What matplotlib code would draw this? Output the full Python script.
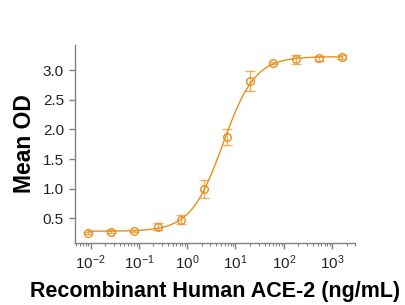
import numpy as np
import matplotlib
matplotlib.use("Agg")
import matplotlib.pyplot as plt
from matplotlib.ticker import LogLocator, NullFormatter

plt.rcParams['font.family'] = ['Liberation Sans', 'DejaVu Sans']

# ACE-2 concentration (ng/mL), 3-fold dilutions
conc = [0.009, 0.027, 0.081, 0.244, 0.73, 2.19, 6.58, 19.75, 59.3, 178, 533, 1600]
od = [0.26, 0.28, 0.29, 0.36, 0.48, 1.00, 1.87, 2.81, 3.12, 3.18, 3.20, 3.22]
err = [0.02, 0.02, 0.02, 0.06, 0.075, 0.15, 0.14, 0.17, 0.02, 0.075, 0.04, 0.04]

col = '#E8901F'

x = np.log10(conc)
y = np.array(od)


def logistic(p, xv):
    b, t, c, h = p
    return b + (t - b) / (1 + 10 ** (h * (c - xv)))


# 4-parameter logistic least-squares fit (damped Gauss-Newton)
p = np.array([y.min(), y.max(), 0.6, 1.2])
for i in range(200):
    r = y - logistic(p, x)
    J = np.zeros((len(x), 4))
    for k in range(4):
        dp = np.zeros(4)
        dp[k] = 1e-6
        J[:, k] = (logistic(p + dp, x) - logistic(p, x)) / 1e-6
    A = J.T @ J
    step = np.linalg.solve(A + 1e-3 * np.diag(np.diag(A)), J.T @ r)
    p = p + step
    if np.max(np.abs(step)) < 1e-9:
        break

xs = np.linspace(x.min(), x.max(), 300)
ys = logistic(p, xs)

fig = plt.figure(figsize=(4.06, 3.05), dpi=100)
ax = fig.add_axes([0.185, 0.204, 0.69, 0.648])

ax.plot(10 ** xs, ys, color=col, lw=1.0)
ax.errorbar(conc, od, yerr=err, fmt='none', ecolor=col, elinewidth=1.0,
            capsize=3.5, capthick=1.0, alpha=0.7)
ax.plot(conc, od, 'o', mfc='none', mec=col, ms=5.5, mew=1.0)

ax.set_xscale('log')
ax.set_xlim(10 ** -2.32, 10 ** 3.48)
ax.set_ylim(0.09, 3.42)
ax.set_yticks([0.5, 1.0, 1.5, 2.0, 2.5, 3.0])
ax.set_yticklabels(['0.5', '1.0', '1.5', '2.0', '2.5', '3.0'])
ax.xaxis.set_major_locator(LogLocator(base=10, numticks=10))
ax.xaxis.set_minor_locator(LogLocator(base=10, subs=np.arange(2, 10), numticks=10))
ax.xaxis.set_minor_formatter(NullFormatter())

for s in ['top', 'right']:
    ax.spines[s].set_visible(False)
for s in ['left', 'bottom']:
    ax.spines[s].set_color('#808080')
    ax.spines[s].set_linewidth(1.0)
ax.tick_params(axis='both', which='major', length=4, width=1.0, color='#808080',
               labelsize=11, labelcolor='#222222', pad=4)
ax.tick_params(axis='x', which='minor', length=2, width=0.8, color='#808080')

ax.set_ylabel('Mean OD', fontsize=16.5, fontweight='bold', labelpad=5)
ax.set_xlabel('Recombinant Human ACE-2 (ng/mL)', fontsize=15.5, fontweight='bold', labelpad=6)

fig.savefig('out.png', dpi=100)
